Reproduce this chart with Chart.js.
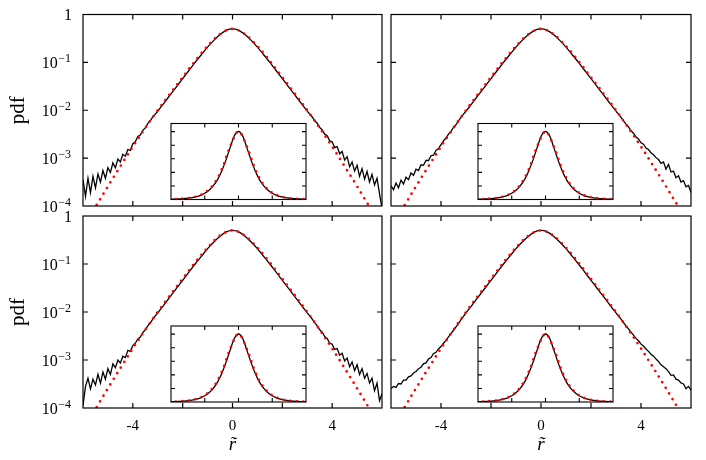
<!DOCTYPE html>
<html>
<head>
<meta charset="utf-8">
<script src="https://cdn.jsdelivr.net/npm/chart.js@4.4.1/dist/chart.umd.min.js"></script>
<style>
html, body { margin: 0; padding: 0; background: #fff; }
#wrap { position: relative; width: 706px; height: 460px; overflow: hidden; }
canvas { position: absolute; }
</style>
</head>
<body>
<div id="wrap"></div>
<script>
// sample positions of the measured pdf (black)
var xs = [-6,-5.9,-5.8,-5.7,-5.6,-5.5,-5.4,-5.3,-5.2,-5.1,-5,-4.9,-4.8,-4.7,-4.6,-4.5,-4.4,-4.3,-4.2,-4.1,
  -4,-3.9,-3.8,-3.7,-3.6,-3.5,-3.4,-3.3,-3.2,-3.1,
  -3,-2.75,-2.5,-2.25,-2,-1.75,-1.5,-1.25,-1,-0.75,-0.5,-0.25,0,0.25,0.5,0.75,1,1.25,1.5,1.75,2,2.25,2.5,2.75,3,
  3.1,3.2,3.3,3.4,3.5,3.6,3.7,3.8,3.9,4,4.1,4.2,4.3,4.4,4.5,4.6,4.7,4.8,4.9,5,5.1,5.2,5.3,5.4,5.5,5.6,5.7,5.8,5.9,6];

// log10(pdf), central part (x = -3 .. 3), same in all panels
var coreLog = [-2.02,-1.85,-1.68,-1.51,-1.34,-1.17,-1.00,-0.84,-0.68,-0.54,-0.42,-0.33,-0.30,
  -0.33,-0.42,-0.54,-0.68,-0.84,-1.00,-1.17,-1.34,-1.51,-1.68,-1.85,-2.02];

// tails, log10(pdf), x = -6 .. -3.1 and 3.1 .. 6
var tlLeft = [-3.45,-3.80,-3.42,-3.72,-3.38,-3.62,-3.33,-3.50,-3.26,-3.42,-3.20,-3.30,-3.10,-3.20,-3.02,-3.08,-2.92,-2.96,-2.82,-2.84,
  -2.70,-2.66,-2.55,-2.52,-2.42,-2.37,-2.28,-2.22,-2.14,-2.08];
var tlRight = [-2.08,-2.14,-2.22,-2.27,-2.36,-2.41,-2.50,-2.53,-2.64,-2.66,-2.78,-2.76,-2.91,-2.86,-3.04,-2.97,-3.18,-3.08,-3.27,-3.15,
  -3.38,-3.22,-3.44,-3.28,-3.50,-3.34,-3.56,-3.42,-3.74,-4.05];
var trLeft = [-3.58,-3.66,-3.52,-3.62,-3.46,-3.54,-3.40,-3.45,-3.31,-3.36,-3.23,-3.26,-3.14,-3.15,-3.05,-3.05,-2.95,-2.94,-2.84,-2.80,
  -2.72,-2.64,-2.58,-2.50,-2.44,-2.36,-2.30,-2.22,-2.15,-2.08];
var trRight = [-2.08,-2.15,-2.22,-2.29,-2.35,-2.43,-2.48,-2.56,-2.60,-2.68,-2.71,-2.79,-2.82,-2.89,-2.93,-2.99,-3.03,-3.11,-3.08,-3.23,
  -3.13,-3.29,-3.27,-3.41,-3.37,-3.50,-3.47,-3.60,-3.57,-3.72];
var blLeft = [-3.95,-3.55,-3.38,-3.60,-3.40,-3.52,-3.30,-3.48,-3.25,-3.40,-3.18,-3.30,-3.08,-3.16,-3.00,-3.06,-2.92,-2.95,-2.80,-2.82,
  -2.70,-2.65,-2.56,-2.52,-2.43,-2.37,-2.29,-2.23,-2.15,-2.08];
var blRight = [-2.08,-2.15,-2.22,-2.29,-2.37,-2.42,-2.51,-2.55,-2.65,-2.67,-2.78,-2.76,-2.90,-2.86,-3.02,-2.96,-3.14,-3.04,-3.22,-3.10,
  -3.30,-3.18,-3.38,-3.28,-3.48,-3.38,-3.64,-3.48,-3.85,-3.70];
var brLeft = [-3.60,-3.55,-3.57,-3.49,-3.50,-3.42,-3.42,-3.35,-3.33,-3.27,-3.24,-3.18,-3.15,-3.08,-3.06,-2.98,-2.95,-2.87,-2.84,-2.77,
  -2.72,-2.65,-2.59,-2.52,-2.45,-2.38,-2.31,-2.24,-2.16,-2.09];
var brRight = [-2.08,-2.15,-2.22,-2.29,-2.35,-2.42,-2.48,-2.55,-2.60,-2.67,-2.71,-2.77,-2.82,-2.88,-2.92,-2.98,-3.03,-3.10,-3.14,-3.18,
  -3.24,-3.32,-3.31,-3.40,-3.42,-3.48,-3.50,-3.60,-3.55,-3.63];

// fitted curve (red dots)
var xsFit = [-6,-5.5,-5,-4.5,-4,-3.5,-3,-2.5,-2,-1.5,-1,-0.5,0,0.5,1,1.5,2,2.5,3,3.5,4,4.5,5,5.5,6];
var logFit = [-4.45,-4.02,-3.59,-3.17,-2.76,-2.37,-2.00,-1.65,-1.31,-0.97,-0.66,-0.41,-0.30,
  -0.41,-0.66,-0.97,-1.31,-1.65,-2.00,-2.37,-2.76,-3.17,-3.59,-4.02,-4.45];

// ticks
var xTickVals = [-4,-2,0,2,4];
var xLabelVals = [-4,0,4];
var yTickVals = [0.1,0.01,0.001];
var yLabelVals = [1,0.1,0.01,0.001,0.0001];
var yLabelExps = ['','\u22121','\u22122','\u22123','\u22124'];
var insetXTicks = [-2,0,2];
var insetYTicks = [0.1,0.2,0.3,0.4,0.5];

var FONT = "'Liberation Serif','Times New Roman',serif";

function pts(x, l){
  return x.map(function(v, i){ return {x: v, y: Math.pow(10, l[i])}; });
}

var frame = {
  id: 'frame',
  beforeDatasetsDraw: function(chart, args, o){
    if (!o.white) return;
    var a = chart.chartArea, ctx = chart.ctx;
    ctx.save();
    ctx.fillStyle = '#fff';
    ctx.fillRect(a.left, a.top, a.width, a.height);
    ctx.restore();
  },
  afterDatasetsDraw: function(chart, args, o){
    var a = chart.chartArea, ctx = chart.ctx, sx = chart.scales.x, sy = chart.scales.y;
    ctx.save();
    ctx.strokeStyle = '#000';
    ctx.lineWidth = o.lw;
    ctx.beginPath();
    o.xt.forEach(function(v){
      var x = sx.getPixelForValue(v);
      ctx.moveTo(x, a.top); ctx.lineTo(x, a.top + o.len);
      ctx.moveTo(x, a.bottom); ctx.lineTo(x, a.bottom - o.len);
    });
    o.yt.forEach(function(v){
      var y = sy.getPixelForValue(v);
      ctx.moveTo(a.left, y); ctx.lineTo(a.left + o.len, y);
      ctx.moveTo(a.right, y); ctx.lineTo(a.right - o.len, y);
    });
    ctx.stroke();
    ctx.strokeRect(a.left, a.top, a.width, a.height);
    if (o.ylab) {
      ctx.fillStyle = '#000';
      ctx.textAlign = 'right';
      ctx.textBaseline = 'alphabetic';
      yLabelVals.forEach(function(v, i){
        var y = sy.getPixelForValue(v), r = a.left - 12, e = yLabelExps[i];
        if (e === '') {
          ctx.font = '16px ' + FONT;
          ctx.fillText('1', r + 1, y + 5.5);
          return;
        }
        ctx.font = '12px ' + FONT;
        var ew = ctx.measureText(e).width;
        ctx.fillText(e, r, y - 0.5);
        ctx.font = '16px ' + FONT;
        ctx.fillText('10', r - ew - 0.5, y + 5.5);
      });
    }
    ctx.restore();
  }
};

var wrap = document.getElementById('wrap');
function makeCanvas(left, top, w, h){
  var c = document.createElement('canvas');
  c.width = w; c.height = h;
  c.style.left = left + 'px'; c.style.top = top + 'px';
  c.style.width = w + 'px'; c.style.height = h + 'px';
  wrap.appendChild(c);
  return c.getContext('2d');
}

function blackSet(data, smooth){
  var d = { data: data, borderColor: '#000', borderWidth: 1.3, pointRadius: 0, fill: false, tension: 0 };
  if (smooth) d.cubicInterpolationMode = 'monotone';
  return d;
}
function redSet(data){
  return { data: data, borderColor: '#ff0000', borderWidth: 2.7, pointRadius: 0, fill: false,
    borderDash: [0, 6.6], borderCapStyle: 'round', cubicInterpolationMode: 'monotone' };
}
function blackSets(logPdf){
  var p = pts(xs, logPdf);
  return [ blackSet(p.slice(0, 31), false), blackSet(p.slice(30, 55), true), blackSet(p.slice(54), false) ];
}

function mainChart(pos, logPdf){
  var ctx = makeCanvas(pos.left, pos.top, pos.w, pos.h);
  return new Chart(ctx, {
    type: 'line',
    data: { datasets: [ redSet(pts(xsFit, logFit)) ].concat(blackSets(logPdf)) },
    plugins: [frame],
    options: {
      responsive: false,
      animation: false,
      events: [],
      layout: { padding: pos.pad },
      plugins: {
        legend: { display: false },
        tooltip: { enabled: false },
        frame: { xt: xTickVals, yt: yTickVals, len: 5, lw: 1.2, ylab: pos.ylab }
      },
      scales: {
        x: {
          type: 'linear', min: -6, max: 6,
          display: pos.xlab,
          grid: { display: false, drawTicks: false },
          border: { display: false },
          ticks: {
            stepSize: 2, autoSkip: false, maxRotation: 0, padding: 9, color: '#000',
            font: { family: FONT, size: 15 },
            callback: function(v){ return xLabelVals.indexOf(v) >= 0 ? String(v) : ''; }
          },
          title: { display: true, text: 'r\u0303', color: '#000',
            font: { family: FONT, size: 19, style: 'italic' }, padding: { top: 0, bottom: 4 } },
          afterFit: function(s){
            s.height = pos.xlab ? 52 : 0;
            s.paddingLeft = 0; s.paddingRight = 0;
          }
        },
        y: {
          type: 'logarithmic', min: 0.0001, max: 1,
          display: pos.ylab,
          grid: { display: false, drawTicks: false },
          border: { display: false },
          ticks: { display: false },
          title: { display: true, text: 'pdf', color: '#000',
            font: { family: FONT, size: 21 }, padding: { top: 6, bottom: 0 } },
          afterFit: function(s){ s.width = pos.ylab ? 83 : 0; }
        }
      }
    }
  });
}

function insetChart(pos, logPdf){
  var ctx = makeCanvas(pos.left, pos.top, 137, pos.h);
  return new Chart(ctx, {
    type: 'line',
    data: { datasets: [ redSet(pts(xsFit, logFit)), blackSet(pts(xs, logPdf), true) ] },
    plugins: [frame],
    options: {
      responsive: false,
      animation: false,
      events: [],
      layout: { padding: pos.pad },
      plugins: {
        legend: { display: false },
        tooltip: { enabled: false },
        frame: { white: true, xt: insetXTicks, yt: insetYTicks, len: 4, lw: 1.1, ylab: false }
      },
      scales: {
        x: { type: 'linear', min: -4, max: 4, display: false },
        y: { type: 'linear', min: 0, max: 0.56, display: false }
      }
    }
  });
}

var logTL = tlLeft.concat(coreLog, tlRight);
var logTR = trLeft.concat(coreLog, trRight);
var logBL = blLeft.concat(coreLog, blRight);
var logBR = brLeft.concat(coreLog, brRight);

mainChart({left: 0, top: 0, w: 387, h: 226, pad: {left: 0, right: 5, top: 14.5, bottom: 20}, xlab: false, ylab: true}, logTL);
mainChart({left: 387, top: 0, w: 319, h: 226, pad: {left: 4, right: 15, top: 14.5, bottom: 20}, xlab: false, ylab: false}, logTR);
mainChart({left: 0, top: 190, w: 387, h: 270, pad: {left: 0, right: 5, top: 26, bottom: 0}, xlab: true, ylab: true}, logBL);
mainChart({left: 387, top: 190, w: 319, h: 270, pad: {left: 4, right: 15, top: 26, bottom: 0}, xlab: true, ylab: false}, logBR);

insetChart({left: 170, top: 122, h: 79, pad: {left: 1, right: 1, top: 1.5, bottom: 1.5}}, logTL);
insetChart({left: 477, top: 122, h: 79, pad: {left: 1, right: 1, top: 1.5, bottom: 1.5}}, logTR);
insetChart({left: 170, top: 325, h: 78, pad: {left: 1, right: 1, top: 1, bottom: 1}}, logBL);
insetChart({left: 477, top: 325, h: 78, pad: {left: 1, right: 1, top: 1, bottom: 1}}, logBR);
</script>
</body>
</html>
